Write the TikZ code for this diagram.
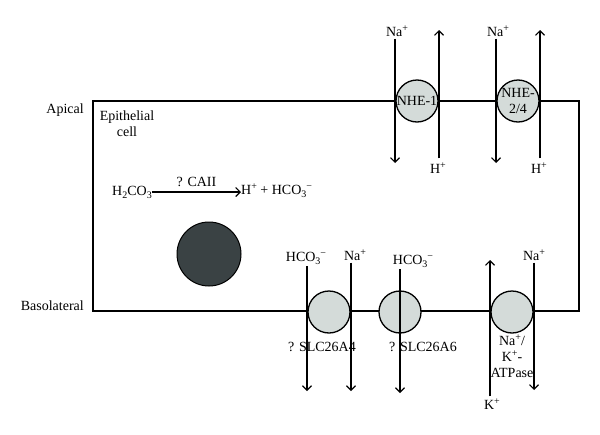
\documentclass[tikz,border=0pt]{standalone}
\usepackage{fontspec}
\setmainfont{Liberation Serif}
\usetikzlibrary{arrows.meta}
\definecolor{pumpgray}{RGB}{212,219,217}
\definecolor{nucleusgray}{RGB}{58,66,68}
\newcommand\ionup[1]{\raisebox{0.8ex}{\fontsize{10}{10}\selectfont #1}}
\newcommand\iondown[1]{\raisebox{-0.45ex}{\fontsize{10}{10}\selectfont #1}}
\tikzset{
  ion/.style={font=\fontsize{14}{16}\selectfont, inner sep=0pt},
  pump/.style={circle, draw=black, line width=1.3pt, fill=pumpgray,
    minimum size=42pt, inner sep=0pt, font=\fontsize{14}{16}\selectfont},
  flux/.style={-{Straight Barb[length=4.5pt, width=9pt]}, line width=1.1pt},
}
\begin{document}
\begin{tikzpicture}
    [
      x=1pt, y=-1pt,
    ]
    \useasboundingbox (0,0) rectangle (600,434);
    %
    \draw [black, line width=1.8pt] (93,101) rectangle (579,311);

    % side labels
    \node [ion, anchor=east] (apical) at (84,110) {Apical};
    \node [ion, anchor=east] (baso) at (84,306) {Basolateral};
    \node [ion, align=center] (cell) at (127,124) {Epithelial\\cell};

    % reaction
    \node [ion] (h2co3) at (132,192) {H\iondown{2}CO\iondown{3}};
    \node [ion, anchor=west] (prod) at (241,191) {H\ionup{+} + HCO\iondown{3}\ionup{−}};
    \draw [flux] (h2co3.east) -- node [ion, above=5pt] (caii) {? CAII} (prod.west |- h2co3.east);

    \node [circle, draw=black, line width=1pt, fill=nucleusgray, minimum size=64pt] (nucleus) at (209,254) {};

    % apical pumps
    \node [pump] (nhe1) at (417,101) {NHE-1};
    \node [pump, align=center] (nhe24) at (518,101) {NHE-\\2/4};

    \foreach \n/\x in {1/417, 2/518} {
      % Na+ in
      \node [ion] (na\n) at (\x-20,31) {Na\ionup{+}};
      \coordinate (na\n end) at (\x-22,163);
      \draw [flux, shorten <=2pt] (na\n end |- na\n.south) -- (na\n end);
      % H+ out
      \node [ion] (h\n) at (\x+21,168) {H\ionup{+}};
      \coordinate (h\n end) at (\x+22,30);
      \draw [flux, shorten <=4pt] (h\n end |- h\n.north) -- (h\n end);
    }

    % basolateral pumps
    \node [pump] (slc4) at (329,312) {};
    \node [pump] (slc6) at (400,312) {};
    \node [pump] (atpase) at (512,312) {};

    \node [ion] (hco1) at (306,258) {HCO\iondown{3}\ionup{−}};
    \coordinate (hco1end) at (307,391);
    \draw [flux, shorten <=2pt] (hco1end |- hco1.south) -- (hco1end);

    \node [ion] (na3) at (355,255) {Na\ionup{+}};
    \coordinate (na3end) at (351,391);
    \draw [flux, shorten <=2pt] (na3end |- na3.south) -- (na3end);

    \node [ion] (hco2) at (413,261) {HCO\iondown{3}\ionup{−}};
    \coordinate (hco2end) at (400,393);
    \draw [flux, shorten <=2pt] (hco2end |- hco2.south) -- (hco2end);

    \node [ion] (k1) at (492,404) {K\ionup{+}};
    \coordinate (k1end) at (490,260);
    \draw [flux, shorten <=2pt] (k1end |- k1.north) -- (k1end);

    \node [ion] (na4) at (534,255) {Na\ionup{+}};
    \coordinate (na4end) at (534,390);
    \draw [flux, shorten <=2pt] (na4end |- na4.south) -- (na4end);

    % pump names
    \node [ion] (slc4lbl) at (322,347) {? SLC26A4};
    \node [ion] (slc6lbl) at (423,347) {? SLC26A6};
    \node [ion, align=center] (atplbl) at (512,356) {Na\ionup{+}/\\K\ionup{+}-\\ATPase};
  \end{tikzpicture}
\end{document}
